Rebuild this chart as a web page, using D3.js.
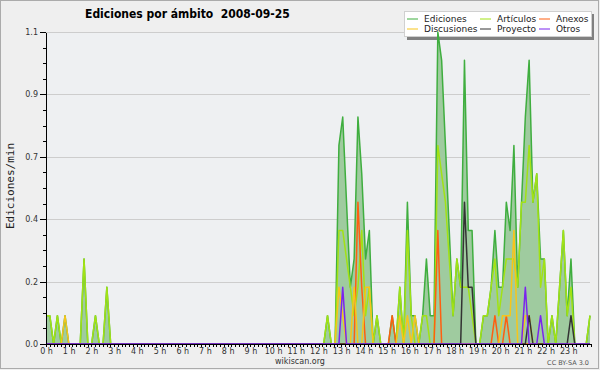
<!DOCTYPE html>
<html>
<head>
<meta charset="utf-8">
<title>Ediciones por ámbito</title>
<script src="https://cdn.jsdelivr.net/npm/d3@7"></script>
<style>
html, body { margin: 0; padding: 0; background: #efefef; }
svg { display: block; font-family: "DejaVu Sans", sans-serif; }
.axis path, .axis line { stroke: #000; shape-rendering: crispEdges; }
.axis text { fill: #333; font-size: 8px; font-family: "DejaVu Sans", sans-serif; }
.grid line { stroke: #cdcdcd; shape-rendering: crispEdges; }
.serie { fill: none; stroke-width: 1.5; stroke-linejoin: round; }
</style>
</head>
<body>
<script>

// one value every 10 minutes, 12 values per row = 2 hours
var ediciones = [
  .1,.1,0,.1,0,.1,0,0,0,0,.3,0,
  0,.1,0,0,.2,0,0,0,0,0,0,0,
  0,0,0,0,0,0,0,0,0,0,0,0,
  0,0,0,0,0,0,0,0,0,0,0,0,
  0,0,0,0,0,0,0,0,0,0,0,0,
  0,0,0,0,0,0,0,0,0,0,0,0,
  0,0,.1,0,0,.7,.8,.5,.2,.3,.8,.6,
  .3,.4,0,.1,0,0,0,.1,0,.2,0,.5,
  .1,.1,0,.1,.3,.1,.1,1.1,1,.7,.4,.1,
  .3,.2,1,.4,.4,0,0,.1,.1,.2,.4,.2,
  .2,.5,.4,.7,.2,.5,.8,1,.5,.6,.3,.3,
  0,.1,0,.2,.4,.1,.3,0,0,0,0,.1
];
var articulos = [
  .1,.1,0,.1,0,0,0,0,0,0,.3,0,
  0,.1,0,0,.2,0,0,0,0,0,0,0,
  0,0,0,0,0,0,0,0,0,0,0,0,
  0,0,0,0,0,0,0,0,0,0,0,0,
  0,0,0,0,0,0,0,0,0,0,0,0,
  0,0,0,0,0,0,0,0,0,0,0,0,
  0,0,.1,0,0,.4,.4,.3,.2,.1,.2,.4,
  .1,.2,0,.1,0,0,0,0,0,.2,0,.4,
  .1,0,0,.1,.1,0,0,.7,.6,.5,.3,.1,
  .3,.2,.2,.2,.1,0,0,.1,.1,.2,.3,.1,
  .2,.3,.3,.3,.2,.5,.5,.7,.5,.6,.2,.3,
  0,.1,0,.2,.4,.1,.2,0,0,0,0,.1
];
var anexos = [
  0,0,0,0,0,0,0,0,0,0,0,0,
  0,0,0,0,0,0,0,0,0,0,0,0,
  0,0,0,0,0,0,0,0,0,0,0,0,
  0,0,0,0,0,0,0,0,0,0,0,0,
  0,0,0,0,0,0,0,0,0,0,0,0,
  0,0,0,0,0,0,0,0,0,0,0,0,
  0,0,0,0,0,0,0,0,0,0,.5,.2,
  0,0,0,0,0,0,0,.1,0,0,0,0,
  0,0,0,0,0,0,0,.4,0,0,0,0,
  0,0,0,0,0,0,0,0,0,0,.1,0,
  0,.1,0,0,0,0,0,0,0,0,0,0,
  0,0,0,0,0,0,0,0,0,0,0,0
];
var discusiones = [
  0,0,0,0,0,.1,0,0,0,0,0,0,
  0,0,0,0,0,0,0,0,0,0,0,0,
  0,0,0,0,0,0,0,0,0,0,0,0,
  0,0,0,0,0,0,0,0,0,0,0,0,
  0,0,0,0,0,0,0,0,0,0,0,0,
  0,0,0,0,0,0,0,0,0,0,0,0,
  0,0,0,0,0,.2,.1,0,0,.2,0,0,
  .2,.2,0,0,0,0,0,0,0,.1,0,.1,
  0,.1,0,0,0,0,0,0,0,0,0,0,
  0,0,0,0,0,0,0,0,0,0,0,0,
  .1,.1,.1,.4,0,0,.1,.1,0,0,0,0,
  0,0,0,0,0,0,0,0,0,0,0,0
];
var proyecto = [
  0,0,0,0,0,0,0,0,0,0,0,0,
  0,0,0,0,0,0,0,0,0,0,0,0,
  0,0,0,0,0,0,0,0,0,0,0,0,
  0,0,0,0,0,0,0,0,0,0,0,0,
  0,0,0,0,0,0,0,0,0,0,0,0,
  0,0,0,0,0,0,0,0,0,0,0,0,
  0,0,0,0,0,0,0,0,0,0,0,0,
  0,0,0,0,0,0,0,0,0,0,0,0,
  0,0,0,0,0,0,0,0,0,0,0,0,
  0,0,.5,.2,.2,0,0,0,0,0,0,0,
  0,0,0,0,0,0,0,.1,0,0,0,0,
  0,0,0,0,0,0,.1,0,0,0,0,0
];
var otros = [
  0,0,0,0,0,0,0,0,0,0,0,0,
  0,0,0,0,0,0,0,0,0,0,0,0,
  0,0,0,0,0,0,0,0,0,0,0,0,
  0,0,0,0,0,0,0,0,0,0,0,0,
  0,0,0,0,0,0,0,0,0,0,0,0,
  0,0,0,0,0,0,0,0,0,0,0,0,
  0,0,0,0,0,0,.2,0,0,0,0,0,
  0,0,0,0,0,0,0,0,0,0,0,0,
  0,0,0,0,0,0,0,0,0,0,0,0,
  0,0,0,0,0,0,0,0,0,0,0,0,
  0,0,0,0,0,0,.2,0,0,0,.1,0,
  0,0,0,0,0,0,0,0,0,0,0,0
];

var hours = d3.range(0, 24);
var yMajor = [0, 0.22, 0.44, 0.66, 0.88, 1.1];
var yMinor = d3.range(0, 21).map(function(i) { return i * 0.055; });
var xMinor = d3.range(0, 145).map(function(i) { return i / 6; });

var series = [
  { name: "Ediciones",   values: ediciones,   color: "#3fae3f" },
  { name: "Artículos",   values: articulos,   color: "#a2e214" },
  { name: "Anexos",      values: anexos,      color: "#ff5e10" },
  { name: "Discusiones", values: discusiones, color: "#f7c51a" },
  { name: "Proyecto",    values: proyecto,    color: "#333333" },
  { name: "Otros",       values: otros,       color: "#7b24ee" }
];
// legend goes column by column, two rows
var legendOrder = ["Ediciones", "Discusiones", "Artículos", "Proyecto", "Anexos", "Otros"];

var width = 600, height = 370;
var plotLeft = 46, plotRight = 590, plotTop = 32, plotBottom = 344;

var svg = d3.select("body").append("svg")
    .attr("width", width)
    .attr("height", height);

svg.append("rect")
    .attr("x", 0.5).attr("y", 0.5)
    .attr("width", width - 2).attr("height", height - 2)
    .attr("fill", "#efefef")
    .attr("stroke", "#ababab");

svg.append("rect")
    .attr("x", plotLeft).attr("y", plotTop)
    .attr("width", plotRight - plotLeft).attr("height", plotBottom - plotTop)
    .attr("fill", "#eef0f2");

var x = d3.scaleLinear().domain([0, ediciones.length - 1]).range([plotLeft, plotRight]);
var xh = d3.scaleLinear().domain([0, 24]).range([plotLeft, plotRight + 1]);
var y = d3.scaleLinear().domain([0, 1.1]).range([plotBottom, plotTop]);

// horizontal grid
svg.append("g").attr("class", "grid")
  .selectAll("line")
    .data(yMajor.slice(1))
  .enter().append("line")
    .attr("x1", plotLeft).attr("x2", plotRight)
    .attr("y1", function(d) { return Math.round(y(d)) + 0.5; })
    .attr("y2", function(d) { return Math.round(y(d)) + 0.5; });

// legend box (the data is drawn over it)
var lg = svg.append("g");
lg.append("rect")
    .attr("x", 407).attr("y", 14).attr("width", 187).attr("height", 26)
    .attr("fill", "#808080");
lg.append("rect")
    .attr("x", 404.5).attr("y", 11.5).attr("width", 187).attr("height", 25)
    .attr("fill", "#fff").attr("stroke", "#d0d0d0");

var area = d3.area()
    .x(function(d, i) { return x(i); })
    .y0(y(0))
    .y1(function(d) { return y(d); });

svg.append("path")
    .datum(ediciones)
    .attr("fill", "#9fcb9f")
    .attr("d", area);

var line = d3.line()
    .x(function(d, i) { return x(i); })
    .y(function(d) { return y(d); });

svg.selectAll(".serie")
    .data(series)
  .enter().append("path")
    .attr("class", "serie")
    .attr("stroke", function(d) { return d.color; })
    .attr("d", function(d) { return line(d.values); });

// axes
svg.append("g")
    .attr("class", "axis")
    .attr("transform", "translate(" + plotLeft + ",0)")
    .call(d3.axisLeft(y).tickValues(yMinor).tickSize(3).tickSizeOuter(0).tickFormat(""));

svg.append("g")
    .attr("class", "axis")
    .attr("transform", "translate(" + plotLeft + ",0)")
    .call(d3.axisLeft(y).tickValues(yMajor).tickSize(6).tickSizeOuter(0)
      .tickPadding(2).tickFormat(d3.format(".1f")));

svg.append("g")
    .attr("class", "axis")
    .attr("transform", "translate(0," + plotBottom + ")")
    .call(d3.axisBottom(xh).tickValues(xMinor).tickSize(3).tickSizeOuter(0).tickFormat(""));

svg.append("g")
    .attr("class", "axis")
    .attr("transform", "translate(0," + plotBottom + ")")
    .call(d3.axisBottom(xh).tickValues(hours).tickSize(3).tickSizeOuter(0)
      .tickPadding(1).tickFormat(function(d) { return d + " h"; }));

// legend entries
var entry = lg.selectAll(".entry")
    .data(legendOrder.map(function(n) {
      return series.filter(function(s) { return s.name == n; })[0];
    }))
  .enter().append("g")
    .attr("class", "entry")
    .attr("transform", function(d, i) {
      var col = Math.floor(i / 2), row = i % 2;
      return "translate(" + [407 + [0, 73, 132][col], 19 + row * 10] + ")";
    });

entry.append("line")
    .attr("x1", 0).attr("x2", 11)
    .attr("stroke", function(d) { return d.color; })
    .attr("stroke-width", 1);

entry.append("text")
    .attr("x", 17)
    .attr("dy", "0.35em")
    .attr("fill", "#222")
    .style("font-size", "9px")
    .text(function(d) { return d.name; });

// texts
svg.append("text")
    .attr("x", 85).attr("y", 18)
    .style("font-family", "'DejaVu Sans Condensed', 'DejaVu Sans', sans-serif")
    .style("font-stretch", "condensed")
    .style("font-weight", "bold")
    .style("font-size", "12px")
    .attr("fill", "#000")
    .text("Ediciones por ámbito\u00a0\u00a02008-09-25");

svg.append("text")
    .attr("transform", "translate(14,186) rotate(-90)")
    .attr("text-anchor", "middle")
    .style("font-family", "'DejaVu Sans Mono', monospace")
    .style("font-size", "11px")
    .attr("fill", "#222")
    .text("Ediciones/min");

svg.append("text")
    .attr("x", 300).attr("y", 364)
    .attr("text-anchor", "middle")
    .style("font-size", "8px")
    .attr("fill", "#333")
    .text("wikiscan.org");

svg.append("text")
    .attr("x", 589).attr("y", 365)
    .attr("text-anchor", "end")
    .style("font-size", "6.5px")
    .attr("fill", "#555")
    .text("CC BY-SA 3.0");

</script>
</body>
</html>
